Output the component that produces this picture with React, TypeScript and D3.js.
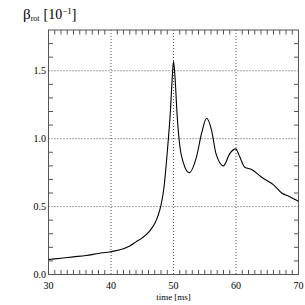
import React from "react";
import * as d3 from "d3";

const times = [30, 32, 34, 36, 38, 40, 42, 43, 44, 45, 46, 46.5, 47, 47.5, 48, 48.5, 49, 49.5, 49.8, 50, 50.2, 50.6, 51, 51.6, 52.5, 53.7, 54.5, 55.3, 56.1, 56.8, 58, 59, 59.95, 60.6, 61.4, 62.5, 64, 65, 66, 67.3, 68.5, 70];
const beta = [0.11, 0.12, 0.13, 0.14, 0.155, 0.168, 0.19, 0.21, 0.24, 0.27, 0.31, 0.34, 0.375, 0.43, 0.51, 0.65, 0.9, 1.2, 1.45, 1.57, 1.48, 1.16, 0.95, 0.82, 0.75, 0.87, 1.04, 1.15, 1.06, 0.89, 0.8, 0.89, 0.925, 0.866, 0.79, 0.773, 0.72, 0.69, 0.66, 0.6, 0.575, 0.54];
const xTicks = [30, 40, 50, 60, 70];
const yTicks = [0.0, 0.5, 1.0, 1.5];

const W = 305, H = 305;
const left = 48.5, right = 298.5, top = 30, bottom = 274.5;

export default function App() {
  const x = d3.scaleLinear().domain([30, 70]).range([left, right]);
  const y = d3.scaleLinear().domain([0, 1.8]).range([bottom, top]);
  const data = times.map((t, i) => [t, beta[i]] as [number, number]);
  const line = d3.line<[number, number]>().x(d => x(d[0])).y(d => y(d[1])).curve(d3.curveMonotoneX);
  const xMinor = d3.range(31, 70, 1).filter(v => v % 10 !== 0);
  const yMinor = d3.range(1, 18).map(v => v / 10).filter(v => Math.abs(v * 2 - Math.round(v * 2)) > 1e-6);
  const tl = 4.5;
  const axisColor = "#555";
  return (
    <svg width={W} height={H} style={{ position: "absolute", left: 0, top: 0, background: "#fff" }}>
      {xTicks.slice(1, -1).map(v => (
        <line key={"gx" + v} x1={x(v)} x2={x(v)} y1={top} y2={bottom} stroke="#222" strokeWidth={0.8} strokeDasharray="1,2" />
      ))}
      {yTicks.slice(1).map(v => (
        <line key={"gy" + v} x1={left} x2={right} y1={y(v)} y2={y(v)} stroke="#222" strokeWidth={0.8} strokeDasharray="1,2" />
      ))}
      {xMinor.map(v => (
        <g key={"mx" + v}>
          <line x1={x(v)} x2={x(v)} y1={bottom} y2={bottom - tl} stroke={axisColor} />
          <line x1={x(v)} x2={x(v)} y1={top} y2={top + tl} stroke={axisColor} />
        </g>
      ))}
      {yMinor.map(v => (
        <g key={"my" + v}>
          <line x1={left} x2={left + tl} y1={y(v)} y2={y(v)} stroke={axisColor} />
          <line x1={right} x2={right - tl} y1={y(v)} y2={y(v)} stroke={axisColor} />
        </g>
      ))}
      <rect x={left} y={top} width={right - left} height={bottom - top} fill="none" stroke={axisColor} strokeWidth={1} />
      <path d={line(data) || ""} fill="none" stroke="#000" strokeWidth={1.1} />
      {xTicks.map(v => (
        <text key={"tx" + v} x={x(v)} y={289} textAnchor="middle" fontFamily="Liberation Serif, serif" fontSize={10} fill="#000">{v}</text>
      ))}
      {yTicks.map(v => (
        <text key={"ty" + v} x={46} y={y(v) + 3.5} textAnchor="end" fontFamily="Liberation Serif, serif" fontSize={10} fill="#000">{v.toFixed(1)}</text>
      ))}
      <text x={x(50)} y={300} textAnchor="middle" fontFamily="Liberation Serif, serif" fontSize={9} fill="#000">time [ms]</text>
      <text x={23} y={19} fontFamily="Liberation Serif, serif" fill="#000">
        <tspan fontSize={15}>β</tspan>
        <tspan fontSize={8} dy={2}>rot</tspan>
        <tspan fontSize={14} dy={-2} dx={4}>[10</tspan>
        <tspan fontSize={9} dy={-5}>−1</tspan>
        <tspan fontSize={14} dy={5}>]</tspan>
      </text>
    </svg>
  );
}
